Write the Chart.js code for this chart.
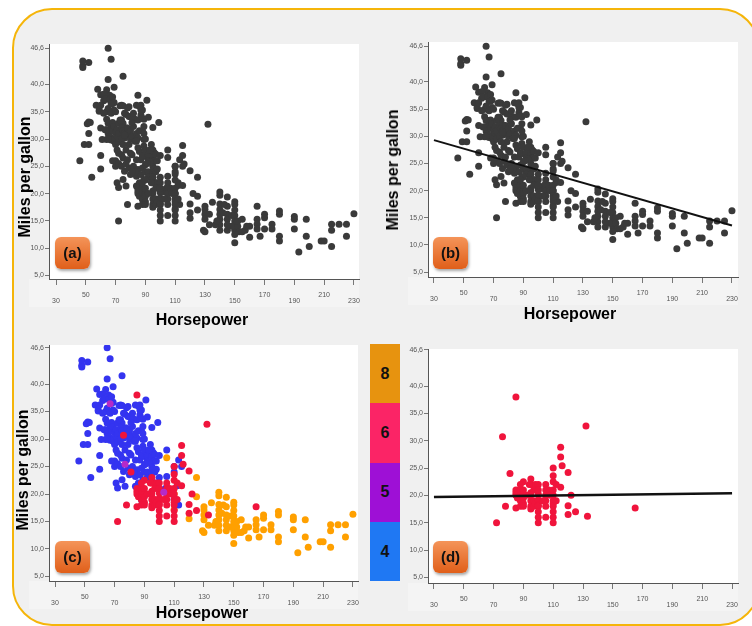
<!DOCTYPE html>
<html><head><meta charset="utf-8">
<script src="https://cdn.jsdelivr.net/npm/chart.js@4.4.0/dist/chart.umd.min.js"></script>
<style>
html,body{margin:0;padding:0;background:#fff;width:752px;height:626px;overflow:hidden;font-family:"Liberation Sans",Arial,sans-serif;}
#frame{position:absolute;left:12px;top:8px;width:748px;height:618px;box-sizing:border-box;border:2.5px solid #f5b50a;border-radius:40px;background:#f0f0f0;}
canvas{position:absolute;}
.ytitle{position:absolute;font-weight:bold;font-size:16px;line-height:16px;white-space:nowrap;transform:translate(-50%,-50%) rotate(-90deg);color:#000}
.xtitle{position:absolute;font-weight:bold;font-size:16px;line-height:16px;white-space:nowrap;transform:translate(-50%,-50%);color:#000}
.badge{position:absolute;width:35px;height:32px;border-radius:6px;background:linear-gradient(#f49459,#e05f1a);box-shadow:1px 2px 3px rgba(0,0,0,0.35);font-weight:bold;font-size:15px;line-height:32px;text-align:center;color:#111}
.leg{position:absolute;left:370px;width:30px;font-weight:bold;font-size:16px;text-align:center;color:#111;display:flex;align-items:center;justify-content:center}
</style></head>
<body>
<div id="frame"></div>
<canvas id="ca"></canvas><canvas id="cb"></canvas><canvas id="cc"></canvas><canvas id="cd"></canvas>
<div id="legend"></div>
<div class="ytitle" style="left:25px;top:177px">Miles per gallon</div>
<div class="ytitle" style="left:393px;top:170px">Miles per gallon</div>
<div class="ytitle" style="left:23px;top:470px">Miles per gallon</div>
<div class="xtitle" style="left:202px;top:320px">Horsepower</div>
<div class="xtitle" style="left:570px;top:314px">Horsepower</div>
<div class="xtitle" style="left:202px;top:613px">Horsepower</div>
<div class="badge" style="left:55px;top:237px">(a)</div>
<div class="badge" style="left:433px;top:237px">(b)</div>
<div class="badge" style="left:55px;top:541px">(c)</div>
<div class="badge" style="left:433px;top:541px">(d)</div>
<script>
// ---- data ----
const hp4 = [65,48,48,48,52,67,65,75,69,58,
64,60,66,67,68,74,79,84,87,88,
87,83,89,77,69,64,59,52,51,99,
95,91,46,49,52,52,53,54,60,60,
62,62,57,59,60,63,66,68,69,65,
67,70,62,64,66,67,64,64,69,73,
75,76,78,74,75,77,79,74,76,78,
79,77,75,78,76,79,75,77,80,74,
80,60,61,63,65,65,66,67,68,68,
69,69,70,70,71,71,72,72,72,73,
74,74,75,75,76,78,80,80,80,81,
82,83,84,85,88,89,70,68,72,71,
71,72,70,72,74,65,82,85,87,88,
89,86,81,84,85,86,89,81,84,87,
90,82,85,88,90,84,87,89,84,86,
88,88,83,86,88,90,90,90,86,89,
92,92,92,92,95,95,95,95,95,95,
96,96,96,97,97,97,97,98,98,100,
100,94,93,93,91,92,105,105,110,110,
112,113,115,110,113,104];
const mpg4 = [46.6,43.1,43.4,44.3,44,44.6,40.9,41.5,39.5,39.1,
39,38.1,38,37.4,36.5,36.2,35.9,36.2,36.2,35.3,
34.4,33.6,33.6,34.5,35.3,35,35.1,33.1,32.8,33,
32.1,37.1,26,29,29,31,33,23,27,24.5,
37,38.2,36.2,35.3,36.2,37.3,37.2,37.7,36.7,35.6,
34.7,35,34.7,33.6,32.9,32,31.7,29.9,29.6,36.1,
36.1,34.7,35.7,33.5,32.9,32,34.1,31.1,30.2,30.8,
29,28,26.5,26.2,24.1,24.7,22.6,21.4,23.5,27.1,
27.4,32,29.9,31.7,32.9,31,30.5,29.8,31.5,33,
32.3,30,31.1,29,31.7,30.5,32.9,31,29.5,33.5,
32,30,31.5,29,31,32,34.1,31.5,30,30.5,
32.3,29.6,31,30.2,31.5,29.9,26,26,27.4,28,
22,21.1,25,25.5,25,30,34.7,33.5,35.3,33.8,
32.3,36,33,29.6,28.4,27.7,28.7,27.1,26.2,26.2,
26.8,25,24.4,24.7,25.3,23.2,23.5,22.6,21.4,20,
19,20.5,24,22,27,28,24,30,31.5,31,
27,26,24,23,28,27,26,25,24,23,
27.5,26,24.5,27.2,26,24,22,24.5,26,27,
23,29,25.8,28,25.5,34,28,23.2,25,24,
21.5,26.2,25,19,18,21];
const hp5 = [67,77,103];
const mpg5 = [36.4,25.4,20.3];
const hp6 = [85,76,132,115,115,116,120,110,110,110,
112,115,122,120,120,125,133,165,81,90,
85,85,85,86,88,88,88,90,90,90,
78,85,88,72,95,95,98,100,95,95,
95,95,95,97,97,98,100,100,100,100,
100,100,100,105,105,105,105,105,105,107,
108,110,110,110,110,110,110,110,110,112,
90,92,94,88,90,97,100,103];
const mpg6 = [38,30.7,32.7,28.8,27,25.4,24.2,25,23.6,22.5,
22,21.5,20,18.1,16.5,17,16.2,17.7,24,22.5,
21,20.5,20,19.5,21,20,19,20,19.5,18.5,
18,17.7,18,15,23,22,22,22,20.5,20,
19,18,17.5,19,18,18.5,20.2,19.2,18.2,18,
17,16,15,22,21,20,19,18,16,21,
20,21,20,19,18.5,18,17,16,15,19,
21,20,22,22,18,21,21,19];
const hp8 = [230,225,225,220,215,215,215,208,210,198,
198,200,193,190,190,190,180,180,180,180,
175,175,170,170,170,167,165,165,165,160,
160,155,157,150,150,150,150,150,150,150,
150,148,152,153,152,145,145,145,145,145,
140,140,140,140,140,140,140,140,135,137,
130,130,130,130,129,130,125,125,120,105,
110,110,90,142,148,138,155,150,145,158,
143,133];
const mpg8 = [16.3,14.4,12.2,14.4,14.4,13.3,10.3,11.3,11.3,15.3,
12.2,10.3,9.3,15.8,15.3,13.5,16.8,16.2,12.2,11.3,
14.4,13.5,16.2,15.6,13.5,12.2,15.3,14.4,13.5,14,
12,15.3,13.3,18.5,18,17,16,15,14.3,13.3,
11,14,14,13,15,19.4,17.7,16.2,15.3,13.3,
20.3,19.7,18.1,17.1,16.2,15.3,14.3,13.3,18.4,14.3,
17.7,17.1,16.2,15.3,13.3,13,19.5,23,15.5,26.6,
20,17.2,23.9,16.5,16,15,13,12.5,14.3,14,
18,14.3];
const regX = [30, 230];
const regAllY = [29.3, 13.6];
const reg6Y = [19.7, 20.4];
const xTicks = [30,50,70,90,110,130,150,170,190,210,230];
const yTicks = [5,10,15,20,25,30,35,40,46.6];
const cylinders = ['8','6','5','4'];
const cylColors = ['#e7930f','#fb2466','#9e10d6','#1f78f3'];

// ---- legend bar ----
const legend = document.getElementById('legend');
cylinders.forEach((c,i)=>{
  const d = document.createElement('div');
  d.className='leg';
  d.style.top = (344 + i*59.25)+'px';
  d.style.height = '59.5px';
  d.style.background = cylColors[i];
  d.textContent = c;
  legend.appendChild(d);
});

function pts(xs, ys){ return xs.map((x,i)=>({x:x, y:ys[i]})); }

const YW = 45, XH = 34, PT = 8, PR = 10;
const bgPlugin = {id:'bg', beforeDraw(c){
  const {ctx, chartArea:a} = c;
  ctx.save();
  ctx.fillStyle = 'rgba(255,255,255,0.3)';
  ctx.fillRect(a.left-20, a.bottom, a.right-a.left+20, 28);
  ctx.fillStyle = '#ffffff';
  ctx.fillRect(a.left, a.top, a.right-a.left, a.bottom-a.top);
  ctx.restore();
}};

function panel(id, r, xr, yr, datasets){
  const cv = document.getElementById(id);
  const w = r.R - r.L + YW + PR, h = r.B - r.T + PT + XH;
  cv.width = w; cv.height = h;
  cv.style.width = w+'px'; cv.style.height = h+'px';
  cv.style.left = (r.L - YW)+'px'; cv.style.top = (r.T - PT)+'px';
  return new Chart(cv, {
    type:'scatter',
    data:{datasets},
    options:{
      responsive:false, animation:false, devicePixelRatio:1,
      layout:{padding:{top:PT, right:PR, left:0, bottom:0}},
      plugins:{legend:{display:false}, tooltip:{enabled:false}},
      scales:{
        x:{type:'linear', min:xr[0], max:xr[1],
          afterBuildTicks:s=>{s.ticks = xTicks.map(v=>({value:v}));},
          afterFit:s=>{s.height = XH;},
          grid:{drawOnChartArea:false, drawTicks:true, tickLength:6, color:'#777'},
          border:{display:true, color:'#555', width:1},
          ticks:{autoSkip:false, maxRotation:0, padding:7, color:'#555',
            font:{family:'"Liberation Sans", Arial, sans-serif', size:7, lineHeight:0.9},
            callback:(v,i)=> i%2===1 ? [String(v)] : [' ', String(v)]}
        },
        y:{type:'linear', min:yr[0], max:yr[1],
          afterBuildTicks:s=>{s.ticks = yTicks.map(v=>({value:v}));},
          afterFit:s=>{s.width = YW;},
          grid:{drawOnChartArea:false, drawTicks:true, tickLength:4, color:'#777'},
          border:{display:true, color:'#555', width:1},
          ticks:{autoSkip:false, padding:1, color:'#555',
            font:{family:'"Liberation Sans", Arial, sans-serif', size:7},
            callback:v=> Number(v).toFixed(1).replace('.', ',')}
        }
      }
    },
    plugins:[bgPlugin]
  });
}

const hpAll = hp8.concat(hp4, hp5, hp6);
const mpgAll = mpg8.concat(mpg4, mpg5, mpg6);
const dark = '#3a3a3a';
const pr = 3.5;
function sc(xs, ys, col){ return {data:pts(xs,ys), backgroundColor:col, borderWidth:0, pointRadius:pr, pointHoverRadius:pr}; }
function ln(ys, w){ return {type:'line', data:pts(regX, ys), borderColor:'#111', borderWidth:w, pointRadius:0, fill:false, showLine:true}; }

panel('ca', {L:49,T:44,R:359,B:279}, [25.3,233.4], [4.36,47.4], [sc(hpAll, mpgAll, dark)]);
panel('cb', {L:428,T:42,R:738,B:277}, [26,234.05], [4.11,47.36], [ln(regAllY, 2), sc(hpAll, mpgAll, dark)]);
panel('cc', {L:49,T:345,R:358,B:581}, [25.97,233.4], [4.18,47.1], [
  sc(hp5, mpg5, '#b52ac8'), sc(hp6, mpg6, '#f0143c'), sc(hp4, mpg4, '#3434f0'), sc(hp8, mpg8, '#ffa000')]);
panel('cd', {L:428,T:349,R:738,B:583}, [26,234], [3.97,46.77], [ln(reg6Y, 2.5), sc(hp6, mpg6, '#f0143c')]);
</script>
</body></html>
